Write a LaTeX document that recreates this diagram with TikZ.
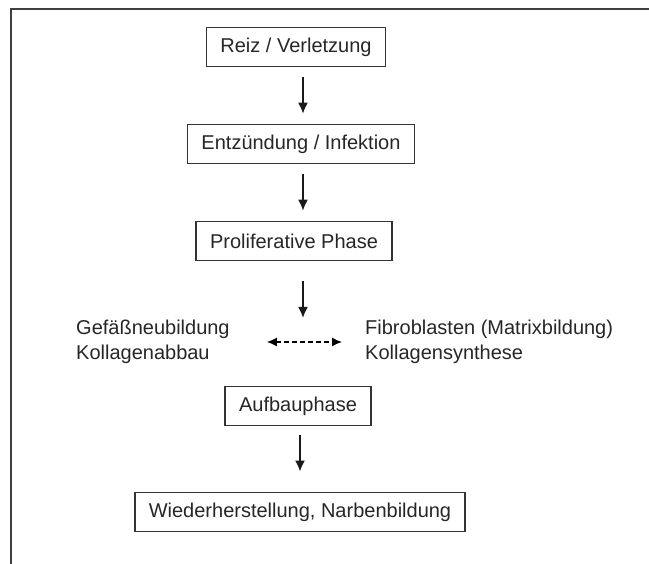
\documentclass[tikz,border=0pt]{standalone}
\usepackage{fontspec}
\setmainfont{Liberation Sans}
\usetikzlibrary{arrows.meta}
\tikzset{
  box/.style={draw=black!80, line width=1.6pt, inner xsep=14pt, minimum height=39pt,
    font=\fontsize{20}{24}\selectfont, text=black!85},
  side/.style={align=left, anchor=west, inner sep=0pt,
    font=\fontsize{20}{25}\selectfont, text=black!85},
  flow/.style={-{Latex[length=11pt,width=10pt]}, line width=1.8pt, black!90}
}
\begin{document}
\begin{tikzpicture}[x=1pt,y=-1pt]
\useasboundingbox (0,0) rectangle (649,564);

\draw[black!75, line width=1.5pt] (11,564) -- (11,9) -- (649,9);

\node[box] (reiz) at (296,47) {Reiz / Verletzung};
\node[box] (entz) at (301,144) {Entzündung / Infektion};
\node[box] (prolif) at (294,241) {Proliferative Phase};
\node[side] (gefaess) at (76,342) {Gefäßneubildung\\Kollagenabbau};
\node[side] (fibro) at (365,342) {Fibroblasten (Matrixbildung)\\Kollagensynthese};
\node[box] (aufbau) at (298,406) {Aufbauphase};
\node[box] (wieder) at (300,512) {Wiederherstellung, Narbenbildung};

\coordinate (col) at (303,0);
\coordinate (col2) at (300,0);
\coordinate (mid) at (303,344);

\draw[flow, shorten <=10pt, shorten >=10pt] (reiz.south -| col) -- (entz.north -| col);
\draw[flow, shorten <=10pt, shorten >=10pt] (entz.south -| col) -- (prolif.north -| col);
\draw[flow, shorten <=20pt, shorten >=26pt] (prolif.south -| col) -- (mid);
\draw[{Latex[length=10pt,width=9pt]}-{Latex[length=10pt,width=9pt]}, line width=1.4pt,
  dash pattern=on 5pt off 3pt, shorten <=37pt, shorten >=23pt] (gefaess.east) -- (fibro.west);
\draw[flow, line width=2.6pt, shorten <=9pt, shorten >=20pt] (aufbau.south -| col2) -- (wieder.north -| col2);
\end{tikzpicture}
\end{document}
